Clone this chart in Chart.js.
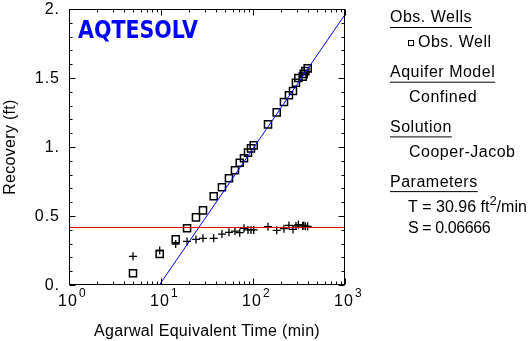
<!DOCTYPE html>
<html>
<head>
<meta charset="utf-8">
<script src="https://cdn.jsdelivr.net/npm/chart.js@4"></script>
<style>
  html, body { margin: 0; padding: 0; background: #fff; }
  #chart { display: block; }
</style>
</head>
<body>
<canvas id="chart" width="531" height="341"></canvas>
<script>
// Recovery test data (time in minutes, recovery in ft)
const agarwalTime = [4.96, 9.68, 14.45, 19.2, 24.0, 28.6, 37.4, 46.0, 54.8, 63.7, 71.7, 79.8, 88.2, 95.1, 101.8,
                     145.6, 181, 217, 246, 272, 293, 311, 347, 356, 371, 393];
const recovery = [0.085, 0.225, 0.331, 0.411, 0.49, 0.541, 0.643, 0.708, 0.773, 0.831, 0.886, 0.918, 0.959, 0.99, 1.012,
                  1.164, 1.251, 1.326, 1.375, 1.406, 1.465, 1.50, 1.51, 1.53, 1.55, 1.57];
const derivative = [0.208, 0.25, 0.297, 0.316, 0.33, 0.338, 0.338, 0.369, 0.382, 0.391, 0.379, 0.411, 0.399, 0.399, 0.399,
                    0.423, 0.396, 0.408, 0.432, 0.403, 0.428, 0.437, 0.428, 0.432, 0.425, 0.425];

// Cooper-Jacob straight line and reference level
const fitTime = [9.6, 1000];
const fitRecovery = [0, 1.96];
const levelTime = [1, 1000];
const levelRecovery = [0.417, 0.417];

// Axis ticks
const yTicks = [0, 0.5, 1, 1.5, 2];
const yTickLabels = ['0.', '0.5', '1.', '1.5', '2.'];
const xDecades = [1, 10, 100, 1000];
const xExponents = ['0', '1', '2', '3'];

// Legend panel
const legendSections = [
  { title: 'Obs. Wells', items: ['Obs. Well'], marker: true },
  { title: 'Aquifer Model', items: ['Confined'] },
  { title: 'Solution', items: ['Cooper-Jacob'] },
  { title: 'Parameters', items: ['T = 30.96 ft|2|/min', 'S = 0.06666'] }
];

const toXY = (xs, ys) => xs.map((x, i) => ({ x: x, y: ys[i] }));
const FONT = '"Liberation Sans", Arial, sans-serif';

const frameAndText = {
  id: 'frameAndText',
  afterDatasetsDraw(chart) {
    const ctx = chart.ctx;
    const a = chart.chartArea;
    const xs = chart.scales.x;
    const ys = chart.scales.y;
    const L = Math.round(a.left) + 0.5, R = Math.round(a.right) - 0.5;
    const T = Math.round(a.top) + 0.5, B = Math.round(a.bottom) - 0.5;

    ctx.save();
    ctx.strokeStyle = '#000';
    ctx.lineWidth = 1;
    ctx.strokeRect(L, T, R - L, B - T);

    // inward ticks on all four sides
    ctx.beginPath();
    for (let v = 0; v <= 2.0001; v += 0.1) {
      const y = Math.round(ys.getPixelForValue(v)) + 0.5;
      const major = Math.abs(v * 2 - Math.round(v * 2)) < 1e-6;
      const len = major ? 6 : 3;
      ctx.moveTo(L, y); ctx.lineTo(L + len, y);
      ctx.moveTo(R, y); ctx.lineTo(R - len, y);
    }
    for (let d = 1; d <= 1000; d *= 10) {
      for (let m = 1; m <= 9; m++) {
        const v = d * m;
        if (v > 1000) break;
        const x = Math.round(xs.getPixelForValue(v)) + 0.5;
        const len = m === 1 ? 6 : 3;
        ctx.moveTo(x, B); ctx.lineTo(x, B - len);
        ctx.moveTo(x, T); ctx.lineTo(x, T + len);
      }
    }
    ctx.stroke();
    ctx.restore();
  },
  afterDraw(chart) {
    const ctx = chart.ctx;
    const a = chart.chartArea;
    const xs = chart.scales.x;
    const ys = chart.scales.y;
    ctx.save();
    ctx.fillStyle = '#000';
    ctx.letterSpacing = '1px';

    // y tick labels
    ctx.font = '16px ' + FONT;
    ctx.textAlign = 'right';
    ctx.textBaseline = 'middle';
    yTicks.forEach((v, i) => {
      ctx.fillText(yTickLabels[i], 60, ys.getPixelForValue(v) + 1);
    });

    // x tick labels, 10 with exponent
    ctx.textBaseline = 'alphabetic';
    xDecades.forEach((v, i) => {
      const x = xs.getPixelForValue(v);
      ctx.font = '16px ' + FONT;
      ctx.textAlign = 'center';
      ctx.fillText('10', x - 1, 306);
      const w = ctx.measureText('10').width;
      ctx.font = '12px ' + FONT;
      ctx.textAlign = 'left';
      ctx.fillText(xExponents[i], x - 1 + w / 2 + 1, 297);
    });

    // axis titles
    ctx.letterSpacing = '0.3px';
    ctx.font = '16px ' + FONT;
    ctx.textAlign = 'center';
    ctx.textBaseline = 'middle';
    ctx.fillText('Agarwal Equivalent Time (min)', (a.left + a.right) / 2, 332);
    ctx.save();
    ctx.translate(11, 147);
    ctx.rotate(-Math.PI / 2);
    ctx.fillText('Recovery (ft)', 0, 0);
    ctx.restore();

    // logo
    ctx.save();
    ctx.letterSpacing = '0px';
    ctx.font = '900 25px "DejaVu Sans", sans-serif';
    ctx.textAlign = 'left';
    ctx.textBaseline = 'alphabetic';
    const logo = 'AQTESOLV';
    const lw = ctx.measureText(logo).width;
    ctx.translate(78, 38);
    ctx.scale(120 / lw, 1);
    ctx.fillStyle = '#0000ff';
    ctx.fillText(logo, 0, 0);
    ctx.restore();

    // legend panel
    ctx.textAlign = 'left';
    ctx.textBaseline = 'middle';
    let y = 18;
    legendSections.forEach(sec => {
      ctx.letterSpacing = '0.5px';
      ctx.font = '16px ' + FONT;
      ctx.fillText(sec.title, 390, y);
      const tw = ctx.measureText(sec.title).width;
      ctx.fillRect(390, y + 9, tw, 1);
      let iy = y + 25;
      sec.items.forEach(item => {
        if (sec.marker) {
          ctx.strokeStyle = '#000';
          ctx.lineWidth = 1;
          ctx.strokeRect(408.5, iy - 2.5, 5, 5);
          ctx.fillText(item, 418, iy);
        } else if (item.indexOf('|') >= 0) {
          // value with a superscript unit exponent
          const parts = item.split('|');
          ctx.letterSpacing = '0px';
          let x = 408;
          ctx.fillText(parts[0], x, iy);
          x += ctx.measureText(parts[0]).width;
          ctx.font = '13px ' + FONT;
          ctx.fillText(parts[1], x, iy - 6);
          x += ctx.measureText(parts[1]).width;
          ctx.font = '16px ' + FONT;
          ctx.fillText(parts[2], x, iy);
        } else if (sec.title === 'Parameters') {
          ctx.letterSpacing = '-0.4px';
          ctx.fillText(item, 408, iy);
        } else {
          ctx.fillText(item, 409, iy);
        }
        iy += 21;
      });
      y += 54.7;
    });
    ctx.restore();
  }
};

new Chart(document.getElementById('chart'), {
  type: 'scatter',
  data: {
    datasets: [
      {
        label: 'Level',
        type: 'line',
        data: toXY(levelTime, levelRecovery),
        borderColor: '#e00000',
        borderWidth: 1,
        pointRadius: 0,
        fill: false
      },
      {
        label: 'Cooper-Jacob',
        type: 'line',
        data: toXY(fitTime, fitRecovery),
        borderColor: '#0000ff',
        borderWidth: 1,
        pointRadius: 0,
        fill: false
      },
      {
        label: 'Derivative',
        data: toXY(agarwalTime, derivative),
        pointStyle: 'cross',
        pointRadius: 4,
        borderColor: '#000',
        borderWidth: 1.3
      },
      {
        label: 'Obs. Well',
        data: toXY(agarwalTime, recovery),
        pointStyle: 'rect',
        pointRadius: 5,
        backgroundColor: 'rgba(0,0,0,0)',
        borderColor: '#000',
        borderWidth: 1.5
      }
    ]
  },
  options: {
    responsive: false,
    animation: false,
    devicePixelRatio: 1,
    layout: { padding: { left: 69, right: 186, top: 9, bottom: 56 } },
    plugins: { legend: { display: false }, tooltip: { enabled: false } },
    scales: {
      x: { type: 'logarithmic', min: 1, max: 1000, display: false },
      y: { type: 'linear', min: 0, max: 2, display: false }
    }
  },
  plugins: [frameAndText]
});
</script>
</body>
</html>
